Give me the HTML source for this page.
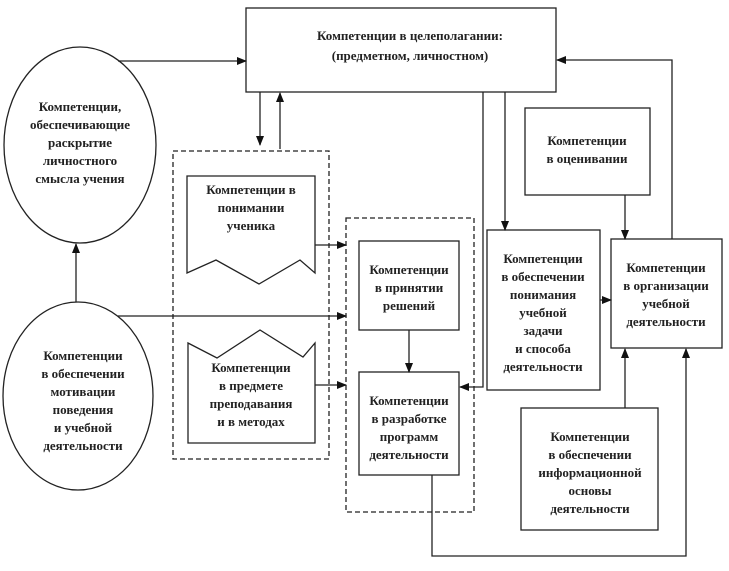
<!DOCTYPE html>
<html><head><meta charset="utf-8"><style>
body{margin:0;background:#fff}
text{font-family:"Liberation Serif",serif;font-weight:bold;font-size:13px;fill:#222;text-anchor:middle}
</style></head><body>
<svg width="729" height="566" viewBox="0 0 729 566" xmlns="http://www.w3.org/2000/svg">
<defs><marker id="a" markerWidth="10" markerHeight="8" refX="9" refY="4" orient="auto" markerUnits="userSpaceOnUse"><path d="M0,0 L10,4 L0,8z" fill="#111"/></marker></defs>
<g fill="none" stroke="#222" stroke-width="1.3">
<rect x="246" y="8" width="310" height="84" fill="#fff"/>
<ellipse cx="80" cy="145" rx="76" ry="98"/>
<ellipse cx="78" cy="396" rx="75" ry="94"/>
<rect x="173" y="151" width="156" height="308" stroke-dasharray="5,3"/>
<rect x="346" y="218" width="128" height="294" stroke-dasharray="5,3"/>
<path d="M187,176 H315 V273 L300,260 L259,284 L216,260 L187,273 Z"/>
<path d="M188,343 L217,358 L260,330 L303,357 L315,343 V443 H188 Z"/>
<rect x="359" y="241" width="100" height="89"/>
<rect x="359" y="372" width="100" height="103"/>
<rect x="487" y="230" width="113" height="160"/>
<rect x="611" y="239" width="111" height="109"/>
<rect x="525" y="108" width="125" height="87"/>
<rect x="521" y="408" width="137" height="122"/>
</g>
<g fill="none" stroke="#222" stroke-width="1.3" marker-end="url(#a)">
<path d="M118,61 H246"/>
<path d="M260,92 V145"/>
<path d="M280,149 V93"/>
<path d="M76,302 V244"/>
<path d="M315,245 H346"/>
<path d="M118,316 H346"/>
<path d="M315,385 H346"/>
<path d="M409,330 V372"/>
<path d="M483,92 V387 H460"/>
<path d="M505,92 V230"/>
<path d="M625,195 V239"/>
<path d="M672,239 V60 H557"/>
<path d="M600,300 H611"/>
<path d="M625,408 V349"/>
<path d="M432,475 V556 H686 V349"/>
</g>
<text x="410" y="40">Компетенции  в целеполагании:</text>
<text x="410" y="60">(предметном, личностном)</text>
<text x="80" y="111">Компетенции,</text>
<text x="80" y="129">обеспечивающие</text>
<text x="80" y="147">раскрытие</text>
<text x="80" y="165">личностного</text>
<text x="80" y="183">смысла учения</text>
<text x="83" y="360">Компетенции</text>
<text x="83" y="378">в обеспечении</text>
<text x="83" y="396">мотивации</text>
<text x="83" y="414">поведения</text>
<text x="83" y="432">и учебной</text>
<text x="83" y="450">деятельности</text>
<text x="251" y="194">Компетенции в</text>
<text x="251" y="212">понимании</text>
<text x="251" y="230">ученика</text>
<text x="251" y="372">Компетенции</text>
<text x="251" y="390">в предмете</text>
<text x="251" y="408">преподавания</text>
<text x="251" y="426">и в методах</text>
<text x="409" y="274">Компетенции</text>
<text x="409" y="292">в принятии</text>
<text x="409" y="310">решений</text>
<text x="409" y="405">Компетенции</text>
<text x="409" y="423">в разработке</text>
<text x="409" y="441">программ</text>
<text x="409" y="459">деятельности</text>
<text x="543" y="263">Компетенции</text>
<text x="543" y="281">в обеспечении</text>
<text x="543" y="299">понимания</text>
<text x="543" y="317">учебной</text>
<text x="543" y="335">задачи</text>
<text x="543" y="353">и способа</text>
<text x="543" y="371">деятельности</text>
<text x="666" y="272">Компетенции</text>
<text x="666" y="290">в организации</text>
<text x="666" y="308">учебной</text>
<text x="666" y="326">деятельности</text>
<text x="587" y="145">Компетенции</text>
<text x="587" y="163">в оценивании</text>
<text x="590" y="441">Компетенции</text>
<text x="590" y="459">в обеспечении</text>
<text x="590" y="477">информационной</text>
<text x="590" y="495">основы</text>
<text x="590" y="513">деятельности</text>
</svg>
</body></html>
